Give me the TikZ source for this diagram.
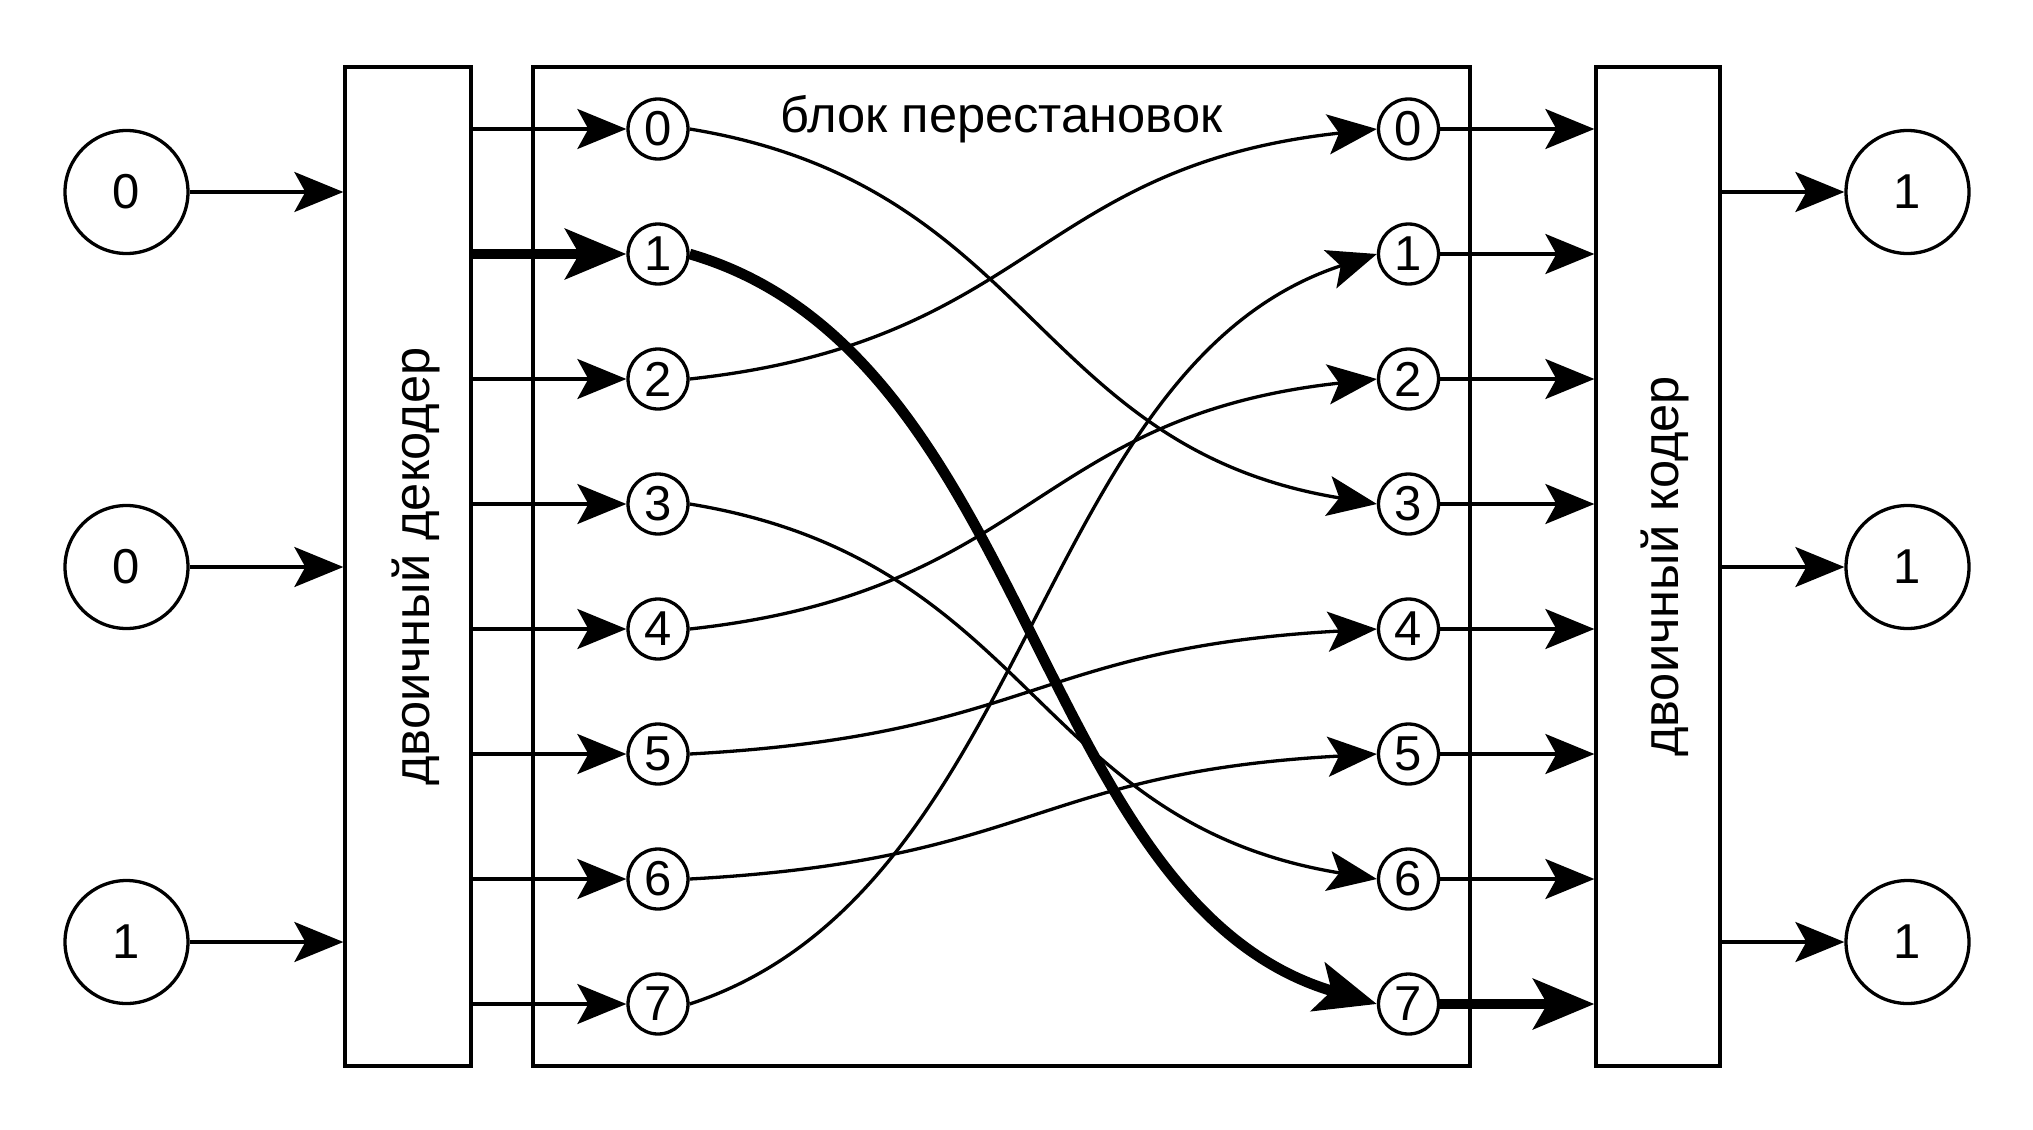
\documentclass[tikz,border=0pt]{standalone}
\usepackage{fontspec}
\setmainfont{Liberation Sans}
\usetikzlibrary{arrows.meta}
\begin{document}
\begin{tikzpicture}[x=0.5pt, y=-0.5pt,
  every node/.style={font=\fontsize{24.5pt}{29pt}\selectfont},
  lbl/.style={font=\fontsize{25.3pt}{30pt}\selectfont},
  wire/.style={line width=1.65pt, -{Stealth[length=24.5pt,width=20pt,inset=5.5pt]}},
  boldwire/.style={line width=5.3pt, -{Stealth[length=30.5pt,width=25pt,inset=7pt]}},
  blk/.style={draw, line width=1.65pt, rectangle, inner sep=0pt},
  bigc/.style={draw, circle, line width=1.65pt, minimum size=61.5pt, inner sep=0pt},
  smallc/.style={draw, circle, line width=1.65pt, minimum size=30pt, inner sep=0pt},
]
\useasboundingbox (0,0) rectangle (2033,1129);

% blocks
\node[blk, minimum width=63pt, minimum height=499.5pt] (dec) at (408,566.5) {};
\node[blk, minimum width=468.5pt, minimum height=499.5pt] (perm) at (1001.5,566.5) {};
\node[blk, minimum width=62pt, minimum height=499.5pt] (enc) at (1658,566.5) {};
\node[lbl, rotate=90, anchor=base] (dectxt) at (429,566.5) {двоичный декодер};
\node[lbl, rotate=90, anchor=base] (enctxt) at (1678,566.5) {двоичный кодер};
\node[lbl, anchor=base] (title) at (1001.5,133) {блок перестановок};

% input / output circles
\node[bigc] (in0) at (126.5,192) {0};
\node[bigc] (in1) at (126.5,567) {0};
\node[bigc] (in2) at (126.5,942) {1};
\node[bigc] (out0) at (1907.5,192) {1};
\node[bigc] (out1) at (1907.5,567) {1};
\node[bigc] (out2) at (1907.5,942) {1};

% small circles
\foreach \i in {0,...,7} {
  \node[smallc] (L\i) at (658,{129+125*\i}) {\i};
  \node[smallc] (R\i) at (1408.5,{129+125*\i}) {\i};
}

% inputs to decoder, encoder to outputs
\foreach \i in {0,1,2} {
  \draw[wire] (in\i.east) -- (in\i.east -| dec.west);
  \draw[wire] (out\i -| enc.east) -- (out\i.west);
}

% decoder to left circles, right circles to encoder
\foreach \i in {0,2,3,4,5,6,7} {
  \draw[wire] (L\i -| dec.east) -- (L\i.west);
}
\draw[boldwire] (L1 -| dec.east) -- (L1.west);
\foreach \i in {0,1,2,3,4,5,6} {
  \draw[wire] (R\i.east) -- (R\i -| enc.west);
}
\draw[boldwire] (R7.east) -- (R7 -| enc.west);

% permutation
\draw[wire] (L0.east) .. controls +(344,56.25) and +(-344,-56.25) .. (R3.west);
\draw[wire] (L2.east) .. controls +(344,-37.5) and +(-344,37.5) .. (R0.west);
\draw[wire] (L3.east) .. controls +(344,56.25) and +(-344,-56.25) .. (R6.west);
\draw[wire] (L4.east) .. controls +(344,-37.5) and +(-344,37.5) .. (R2.west);
\draw[wire] (L5.east) .. controls +(344,-18.75) and +(-344,18.75) .. (R4.west);
\draw[wire] (L6.east) .. controls +(344,-18.75) and +(-344,18.75) .. (R5.west);
\draw[wire] (L7.east) .. controls +(344,-112.5) and +(-344,112.5) .. (R1.west);
\draw[boldwire] (L1.east) .. controls +(344,100) and +(-344,-100) .. (R7.west);
\end{tikzpicture}
\end{document}
